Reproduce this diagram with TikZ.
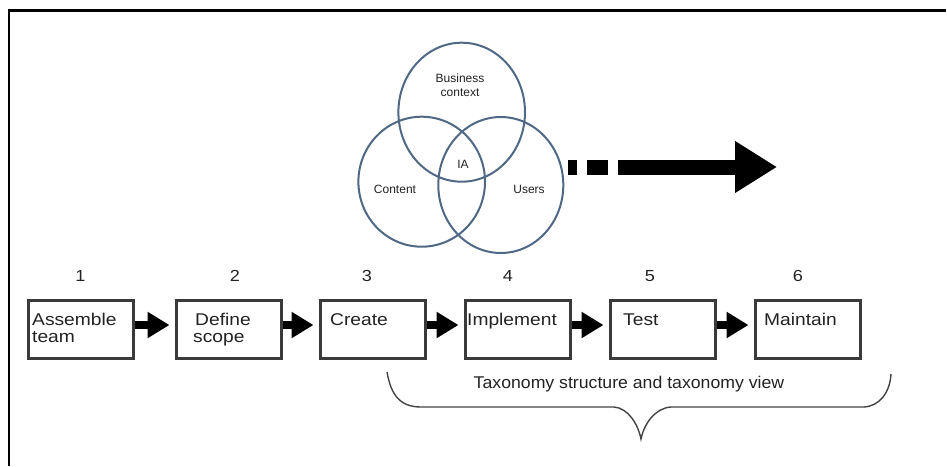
\documentclass[tikz,border=0pt]{standalone}
\usepackage{fontspec}
\setmainfont{Liberation Sans}
\newfontfamily\widesans[FakeStretch=1.13]{Liberation Sans}
\newfontfamily\bracesans[FakeStretch=1.04]{Liberation Sans}
\usetikzlibrary{arrows.meta}
\definecolor{vennblue}{HTML}{4F6884}
\definecolor{boxline}{HTML}{3A3A3A}
\definecolor{darktext}{HTML}{222222}
\begin{document}
\begin{tikzpicture}[x=1pt,y=-1pt,
  stepbox/.style={draw=boxline, line width=3pt, minimum width=105pt, minimum height=58pt, inner sep=0pt, anchor=north west},
  boxtxt/.style={font=\widesans\fontsize{17}{17}\selectfont, anchor=base west, inner sep=0pt, text=darktext},
  numtxt/.style={font=\widesans\fontsize{16}{16}\selectfont, anchor=base, inner sep=0pt, text=darktext},
  venn/.style={draw=vennblue, line width=2pt},
  venntxt/.style={font=\fontsize{12}{12}\selectfont, anchor=base, inner sep=0pt, text=darktext},
  flow/.style={line width=8pt, -{Triangle[length=22pt,width=25pt]}, shorten >=5pt},
  bigflow/.style={line width=15pt, dash pattern=on 9pt off 10pt on 21pt off 10pt on 400pt, -{Triangle[length=42pt,width=49pt]}},
  bracestyle/.style={draw=darktext!85, line width=1.4pt}
]
\useasboundingbox (0,0) rectangle (947,466);
% frame
\draw[line width=2.6pt] (8.8,466) -- (8.8,10.5) -- (946,10.5);

% Venn diagram
\draw[venn] (461.7,112.2) ellipse [x radius=63.3, y radius=69.5];
\draw[venn] (421.7,181.7) ellipse [x radius=63.3, y radius=65];
\draw[venn] (500.8,185) ellipse [x radius=62.5, y radius=68];
\node[venntxt] (bus) at (460,82) {Business};
\node[venntxt] (ctx) at (460,96) {context};
\node[venntxt] (ia) at (463,168) {IA};
\node[venntxt] (cont) at (395,193) {Content};
\node[venntxt] (users) at (529,193) {Users};

% big dashed arrow
\coordinate (das) at (568,167);
\coordinate (dae) at (777,167);
\draw[bigflow] (das) -- (dae);

% numbers
\node[numtxt] (n1) at (80.5,281) {1};
\node[numtxt] (n2) at (235,281) {2};
\node[numtxt] (n3) at (367,281) {3};
\node[numtxt] (n4) at (508,281) {4};
\node[numtxt] (n5) at (650,281) {5};
\node[numtxt] (n6) at (798,281) {6};

% boxes
\node[stepbox] (b1) at (26.5,298.5) {};
\node[stepbox] (b2) at (174.5,298.5) {};
\node[stepbox] (b3) at (318.5,298.5) {};
\node[stepbox] (b4) at (463.5,298.5) {};
\node[stepbox] (b5) at (608.5,298.5) {};
\node[stepbox] (b6) at (753.5,298.5) {};

\node[boxtxt] (t1a) at (32,325) {Assemble};
\node[boxtxt] (t1b) at (32,342) {team};
\node[boxtxt] (t2a) at (195,325) {Define};
\node[boxtxt] (t2b) at (193,342) {scope};
\node[boxtxt] (t3) at (330,325) {Create};
\node[boxtxt] (t4) at (467,325) {Implement};
\node[boxtxt] (t5) at (623,325) {Test};
\node[boxtxt] (t6) at (764,325) {Maintain};

% flow arrows
\draw[flow] ([yshift=4pt]b1.east) -- ([yshift=4pt]b2.west);
\draw[flow] ([yshift=4pt]b2.east) -- ([yshift=4pt]b3.west);
\draw[flow] ([yshift=4pt]b3.east) -- ([yshift=4pt]b4.west);
\draw[flow] ([yshift=4pt]b4.east) -- ([yshift=4pt]b5.west);
\draw[flow] ([yshift=4pt]b5.east) -- ([yshift=4pt]b6.west);

% brace
\draw[bracestyle] (387,372) .. controls (391,395) and (400,407) .. (421,407)
  -- (614,407) .. controls (628,408) and (638,424) .. (641,439)
  .. controls (644,424) and (655,408) .. (671,407)
  -- (864,407) .. controls (880,406) and (890,392) .. (891,374);
\node[font=\bracesans\fontsize{17}{17}\selectfont, anchor=base, inner sep=0pt, text=darktext] (brtxt) at (629,388) {Taxonomy structure and taxonomy view};
\end{tikzpicture}
\end{document}
